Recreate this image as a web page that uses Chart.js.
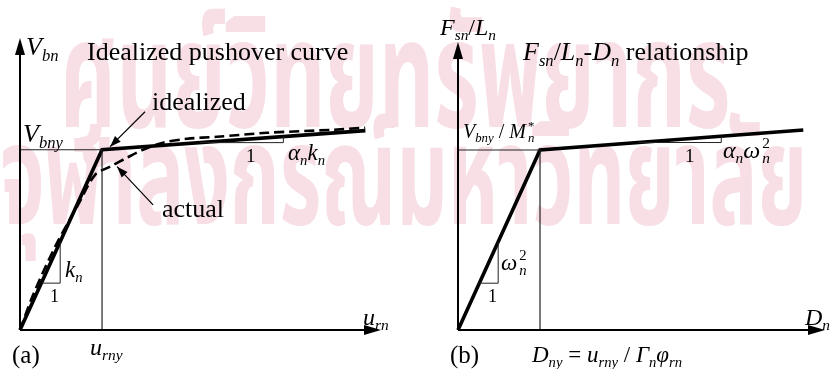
<!DOCTYPE html>
<html>
<head>
<meta charset="utf-8">
<script src="https://cdn.jsdelivr.net/npm/chart.js@4"></script>
<style>
  html, body { margin: 0; padding: 0; background: #fff; }
  #wrap { position: relative; width: 830px; height: 369px; overflow: hidden; }
  .wm { position: absolute; white-space: nowrap; color: #f7dfe5; font-family: "Noto Sans Thai", "Noto Sans", "DejaVu Sans", sans-serif; font-weight: bold; transform-origin: 0 0; transform: scaleY(1.75); }
  canvas { position: absolute; top: 0; }
</style>
</head>
<body>
<div id="wrap">
  <div class="wm" style="left:60px; top:-32px; font-size:86px;">ศูนย์วิทยทรัพยากร</div>
  <div class="wm" style="left:0px; top:75px; font-size:80px;">จุฬาลงกรณ์มหาวิทยาลัย</div>
  <canvas id="chartA" width="415" height="369" style="left:0"></canvas>
  <canvas id="chartB" width="415" height="369" style="left:415px"></canvas>
</div>
<script>
// yield point sits at (1, 1) in both panels
const idealA_x = [0, 1, 4.21];
const idealA_y = [0, 1, 1.106];
const actualA_x = [0, 0.159, 0.439, 0.707, 0.915, 1.098, 1.305, 1.5, 1.744, 2.037, 2.402, 3.012, 3.817, 4.207];
const actualA_y = [0, 0.194, 0.472, 0.694, 0.861, 0.906, 0.956, 1.0, 1.039, 1.061, 1.072, 1.094, 1.111, 1.122];
const idealB_x = [0, 1, 4.21];
const idealB_y = [0, 1, 1.111];
// slope triangles: [start x, end x] on the elastic and post-yield branches
const elasticTri = [0.26, 0.49];
const hardenTri = [2.2, 3.21];

const FONT = '"Liberation Serif", "Times New Roman", serif';
const pts = (xs, ys) => xs.map((x, i) => ({ x: x, y: ys[i] }));

function lineAt(xs, ys, x) {
  for (let i = 1; i < xs.length; i++) {
    if (x <= xs[i]) {
      const t = (x - xs[i - 1]) / (xs[i] - xs[i - 1]);
      return ys[i - 1] + t * (ys[i] - ys[i - 1]);
    }
  }
  return ys[ys.length - 1];
}

function triangle(xs, ys, range) {
  const y0 = lineAt(xs, ys, range[0]);
  return [{ x: range[0], y: y0 }, { x: range[1], y: y0 }, { x: range[1], y: lineAt(xs, ys, range[1]) }];
}

function drawRich(ctx, x, y, size, parts) {
  let cx = x;
  ctx.fillStyle = "#000";
  ctx.textBaseline = "alphabetic";
  for (const p of parts) {
    const s = p.s ? size * 0.64 : size;
    ctx.font = (p.it ? "italic " : "") + s.toFixed(1) + "px " + FONT;
    const dy = p.s === "sub" ? size * 0.22 : p.s === "sup" ? -size * 0.42 : 0;
    cx += p.dx || 0;
    ctx.fillText(p.t, cx, y + dy);
    if (!p.stack) cx += ctx.measureText(p.t).width;
  }
}

function arrowHead(ctx, x0, y0, x1, y1, len, half) {
  const a = Math.atan2(y1 - y0, x1 - x0);
  ctx.beginPath();
  ctx.moveTo(x1, y1);
  ctx.lineTo(x1 - len * Math.cos(a) + half * Math.sin(a), y1 - len * Math.sin(a) - half * Math.cos(a));
  ctx.lineTo(x1 - len * Math.cos(a) - half * Math.sin(a), y1 - len * Math.sin(a) + half * Math.cos(a));
  ctx.closePath();
  ctx.fill();
}

const i = true;
const sub = (t) => ({ t: t, it: true, s: "sub" });

const labelsA = [
  { x: 26, y: 55, size: 26, parts: [{ t: "V", it: i }, sub("bn")] },
  { x: 87, y: 60, size: 26, parts: [{ t: "Idealized pushover curve" }] },
  { x: 152, y: 110, size: 26, parts: [{ t: "idealized" }] },
  { x: 23, y: 142, size: 26, parts: [{ t: "V", it: i }, sub("bny")] },
  { x: 162, y: 217, size: 26, parts: [{ t: "actual" }] },
  { x: 246, y: 162, size: 19, parts: [{ t: "1" }] },
  { x: 288, y: 160, size: 23, parts: [{ t: "α", it: i }, sub("n"), { t: "k", it: i }, sub("n")] },
  { x: 65, y: 277, size: 23, parts: [{ t: "k", it: i }, sub("n")] },
  { x: 50, y: 302, size: 18, parts: [{ t: "1" }] },
  { x: 363, y: 325, size: 24, parts: [{ t: "u", it: i }, sub("rn")] },
  { x: 90, y: 355, size: 24, parts: [{ t: "u", it: i }, sub("rny")] },
  { x: 12, y: 363, size: 25, parts: [{ t: "(a)" }] }
];

const labelsB = [
  { x: 25, y: 35, size: 24, parts: [{ t: "F", it: i }, sub("sn"), { t: "/" }, { t: "L", it: i }, sub("n")] },
  { x: 108, y: 60, size: 26, parts: [{ t: "F", it: i }, sub("sn"), { t: "/" }, { t: "L", it: i }, sub("n"), { t: "-" }, { t: "D", it: i }, sub("n"), { t: " relationship" }] },
  { x: 48, y: 138, size: 20, parts: [{ t: "V", it: i }, sub("bny"), { t: " / " }, { t: "M", it: i }, { t: "*", s: "sup", stack: true, dx: 2 }, sub("n")] },
  { x: 270, y: 162, size: 19, parts: [{ t: "1" }] },
  { x: 308, y: 158, size: 24, parts: [{ t: "α", it: i }, sub("n"), { t: "ω", it: i }, { t: "2", s: "sup", stack: true, dx: 2 }, sub("n")] },
  { x: 86, y: 270, size: 23, parts: [{ t: "ω", it: i }, { t: "2", s: "sup", stack: true, dx: 2 }, sub("n")] },
  { x: 73, y: 302, size: 18, parts: [{ t: "1" }] },
  { x: 390, y: 325, size: 24, parts: [{ t: "D", it: i }, sub("n")] },
  { x: 35, y: 363, size: 25, parts: [{ t: "(b)" }] },
  { x: 117, y: 362, size: 23, parts: [{ t: "D", it: i }, sub("ny"), { t: " = " }, { t: "u", it: i }, sub("rny"), { t: " / " }, { t: "Γ", it: i }, sub("n"), { t: "φ", it: i }, sub("rn")] }
];

// callout arrows in data units: [tailX, tailY, tipX, tipY]
const calloutsA = [
  [1.524, 1.211, 1.098, 1.017],
  [1.622, 0.694, 1.183, 0.906]
];

const overlay = {
  id: "overlay",
  afterDatasetsDraw(chart, args, opts) {
    const ctx = chart.ctx;
    const xs = chart.scales.x, ys = chart.scales.y;
    const ox = xs.getPixelForValue(0), oy = ys.getPixelForValue(0);
    const right = chart.chartArea.right, top = chart.chartArea.top;
    ctx.save();
    ctx.strokeStyle = "#000";
    ctx.fillStyle = "#000";
    ctx.lineWidth = 2;
    ctx.beginPath();
    ctx.moveTo(ox, oy); ctx.lineTo(right - 10, oy);
    ctx.moveTo(ox, oy); ctx.lineTo(ox, top + 10);
    ctx.stroke();
    arrowHead(ctx, ox, oy, right, oy, 17, 5);
    arrowHead(ctx, ox, oy, ox, top, 17, 5);

    ctx.lineWidth = 1.2;
    for (const c of opts.callouts || []) {
      const x0 = xs.getPixelForValue(c[0]), y0 = ys.getPixelForValue(c[1]);
      const x1 = xs.getPixelForValue(c[2]), y1 = ys.getPixelForValue(c[3]);
      ctx.beginPath(); ctx.moveTo(x0, y0); ctx.lineTo(x1, y1); ctx.stroke();
      arrowHead(ctx, x0, y0, x1, y1, 11, 4);
    }
    for (const l of opts.labels) drawRich(ctx, l.x, l.y, l.size, l.parts);
    ctx.restore();
  }
};

function makePanel(id, xMax, yMax, padding, datasets, labels, callouts) {
  return new Chart(document.getElementById(id), {
    type: "scatter",
    data: { datasets: datasets },
    options: {
      responsive: false,
      animation: false,
      devicePixelRatio: 1,
      layout: { padding: padding },
      scales: {
        x: { type: "linear", min: 0, max: xMax, display: false },
        y: { type: "linear", min: 0, max: yMax, display: false }
      },
      plugins: {
        legend: { display: false },
        tooltip: { enabled: false },
        overlay: { labels: labels, callouts: callouts }
      }
    },
    plugins: [overlay]
  });
}

const thin = (data, w) => ({ data: data, showLine: true, borderColor: "#222", borderWidth: w, pointRadius: 0, clip: false });
const guide = [{ x: 0, y: 1 }, { x: 1, y: 1 }, { x: 1, y: 0 }];

makePanel("chartA", 4.4, 1.62, { left: 20, right: 34, top: 38, bottom: 39 }, [
  thin(guide, 1.2),
  thin(triangle(idealA_x, idealA_y, elasticTri), 1),
  thin(triangle(idealA_x, idealA_y, hardenTri), 1),
  { data: pts(actualA_x, actualA_y), showLine: true, borderColor: "#000", borderWidth: 2.6, borderDash: [10, 5], pointRadius: 0, tension: 0.3, clip: false },
  { data: pts(idealA_x, idealA_y), showLine: true, borderColor: "#000", borderWidth: 3.6, pointRadius: 0, clip: false }
], labelsA, calloutsA);

makePanel("chartB", 4.475, 1.6, { left: 43, right: 5, top: 42, bottom: 39 }, [
  thin(guide, 1.2),
  thin(triangle(idealB_x, idealB_y, elasticTri), 1),
  thin(triangle(idealB_x, idealB_y, hardenTri), 1),
  { data: pts(idealB_x, idealB_y), showLine: true, borderColor: "#000", borderWidth: 3.6, pointRadius: 0, clip: false }
], labelsB, []);
</script>
</body>
</html>
